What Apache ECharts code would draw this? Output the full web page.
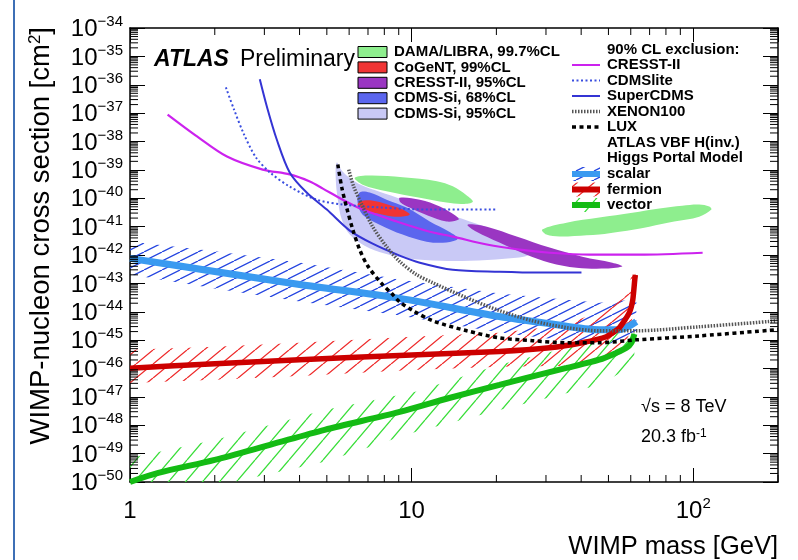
<!DOCTYPE html>
<html><head><meta charset="utf-8">
<script src="https://cdn.jsdelivr.net/npm/echarts@6/dist/echarts.min.js"></script>
<style>html,body{margin:0;padding:0;background:#fff}#c{width:798px;height:560px}</style>
</head><body><div id="c"></div>
<script>
// ---------------- DATA (mass in GeV, log10 of cross-section in cm^2) ----------------
const X_MIN = 1, X_MAX = 200, Y_MIN = -50, Y_MAX = -34;
const xMinorTicks = [2,3,4,5,6,7,8,9,20,30,40,50,60,70,80,90,200];
const yDecades = [-50,-49,-48,-47,-46,-45,-44,-43,-42,-41,-40,-39,-38,-37,-36,-35];
const minorMultipliers = [2,3,4,5,6,7,8,9];

// Exclusion curves
const cresstLine = [[1.36,-37.05],[1.73,-37.82],[2.21,-38.53],[2.96,-38.99],[3.69,-39.16],[4.35,-39.41],[4.84,-39.66],[5.69,-40.05],[6.70,-40.40],[8.85,-40.82],[11.6,-41.18],[14.0,-41.35],[18.5,-41.63],[24.2,-41.81],[30.9,-41.92],[42.8,-41.99],[64.4,-41.99],[108,-41.92]];
const cdmsliteLine = [[2.19,-36.09],[2.34,-36.87],[2.54,-37.75],[2.80,-38.56],[3.14,-39.09],[3.69,-39.59],[4.60,-40.05],[5.69,-40.22],[7.89,-40.33],[11.6,-40.40],[20.2,-40.40]];
const supercdmsLine = [[2.89,-35.81],[3.06,-36.76],[3.32,-37.93],[3.69,-39.09],[4.24,-39.80],[5.00,-40.40],[6.03,-41.14],[7.27,-41.60],[9.07,-42.02],[10.7,-42.27],[14.0,-42.52],[20.5,-42.59],[28.4,-42.62],[40.1,-42.62]];
const xenonLine = [[5.98,-38.99],[6.23,-39.59],[6.70,-40.29],[7.27,-41.00],[8.15,-41.71],[9.07,-42.23],[10.4,-42.69],[11.9,-42.98],[15.7,-43.51],[20.5,-43.96],[26.9,-44.32],[35.5,-44.56],[46.4,-44.67],[62.8,-44.67],[105,-44.53],[200,-44.32]];
const luxLine = [[5.47,-38.81],[5.65,-39.62],[5.88,-40.33],[6.18,-41.10],[6.54,-41.81],[6.98,-42.38],[7.83,-43.01],[8.50,-43.36],[9.07,-43.65],[10.1,-43.96],[11.9,-44.32],[15.7,-44.67],[20.5,-44.92],[26.9,-45.02],[35.5,-45.09],[46.4,-45.09],[62.8,-44.99],[105,-44.85],[200,-44.63]];

// Signal contours (closed outlines)
const damaRegion1 = [[6.28,-39.28],[7.10,-39.20],[9.29,-39.26],[12.3,-39.40],[14.0,-39.58],[15.7,-39.90],[16.5,-40.12],[15.2,-40.20],[13.3,-40.15],[10.7,-39.98],[8.15,-39.75],[6.70,-39.52]];
const damaRegion2 = [[29.1,-41.10],[35.5,-40.86],[46.4,-40.68],[60.8,-40.51],[75.8,-40.36],[91.4,-40.26],[105,-40.22],[114,-40.29],[116,-40.40],[105,-40.65],[85.6,-40.82],[69.8,-41.00],[54.7,-41.18],[46.4,-41.28],[37.8,-41.33],[33.5,-41.35],[30.1,-41.28]];
const cogentRegion = [[6.54,-40.12],[7.21,-40.08],[8.22,-40.22],[9.29,-40.40],[9.84,-40.58],[8.71,-40.65],[7.58,-40.54],[6.76,-40.43],[6.43,-40.26]];
const cresstRegion1 = [[9.07,-39.98],[10.7,-40.05],[12.6,-40.29],[14.3,-40.61],[14.7,-40.75],[13.3,-40.82],[11.4,-40.61],[9.84,-40.33],[9.14,-40.15]];
const cresstRegion2 = [[15.8,-40.93],[18.5,-41.00],[23.6,-41.35],[30.9,-41.74],[40.4,-42.06],[51.6,-42.27],[56.0,-42.40],[49.1,-42.48],[38.5,-42.45],[30.9,-42.27],[25.6,-41.99],[20.5,-41.56],[17.0,-41.18]];
const cdms68Region = [[6.54,-39.80],[7.10,-39.80],[8.15,-40.05],[9.60,-40.33],[11.6,-40.82],[13.6,-41.18],[14.6,-41.42],[13.3,-41.56],[11.3,-41.53],[9.29,-41.28],[7.70,-40.93],[6.70,-40.58],[6.43,-40.15]];
const cdms95Region = [[5.42,-38.74],[5.69,-39.06],[6.13,-39.34],[6.81,-39.59],[8.02,-39.83],[9.84,-40.12],[12.6,-40.47],[16.1,-40.82],[20.5,-41.18],[24.2,-41.46],[26.9,-41.74],[25.8,-42.02],[21.4,-42.13],[16.1,-42.20],[12.6,-42.20],[9.84,-42.13],[8.02,-41.95],[6.81,-41.67],[6.03,-41.28],[5.65,-40.75],[5.47,-40.05],[5.38,-39.34]];

// ATLAS VBF H(inv.) Higgs portal: central lines and band edges
const scalarMid = [[1,-42.12],[2,-42.58],[4,-43.04],[9.07,-43.53],[20.5,-44.17],[30.9,-44.42],[46.4,-44.63],[54.7,-44.63],[62.8,-44.35]];
const scalarHi  = [[1,-41.52],[2,-41.87],[4,-42.26],[9.07,-42.86],[20.5,-43.36],[46.4,-43.68],[62.8,-43.57]];
const scalarLo  = [[1,-42.69],[2,-43.18],[4,-43.64],[9.07,-44.13],[20.5,-44.73],[46.4,-45.16],[62.8,-45.05]];
const fermionMid = [[1,-45.99],[2,-45.83],[4,-45.69],[10,-45.52],[20.5,-45.40],[30.9,-45.27],[40.3,-45.09],[49.1,-44.88],[54.7,-44.56],[59.3,-44.03],[61.0,-43.58],[62.0,-42.87],[62.3,-42.70]];
const fermionHi  = [[1,-45.34],[2,-45.23],[4,-45.09],[10,-44.88],[20.5,-44.74],[33.5,-44.49],[46.4,-44.03],[56.9,-43.51],[62.3,-42.34]];
const fermionLo  = [[1,-46.51],[2,-46.40],[4,-46.26],[10,-46.05],[20.5,-45.94],[33.5,-45.91],[46.4,-45.76],[54.7,-45.41],[59.3,-44.81],[62.3,-43.58]];
const vectorMid = [[1,-50.0],[1.26,-49.68],[2,-49.22],[3.14,-48.69],[4.91,-48.16],[9.07,-47.53],[13.6,-47.04],[20.5,-46.58],[25.6,-46.33],[35.5,-45.98],[46.4,-45.69],[53.3,-45.45],[57.9,-45.27],[60.3,-45.09],[61.8,-44.78]];
const vectorHi  = [[1,-49.15],[2,-48.52],[4.91,-47.46],[10.3,-46.82],[20.5,-45.87],[46.4,-44.99],[61.8,-44.46]];
const vectorLo  = [[1,-50.90],[2,-50.14],[4.91,-49.29],[10.3,-48.24],[20.5,-47.46],[46.4,-46.58],[61.8,-45.87]];

const leftLegend = ['DAMA/LIBRA, 99.7%CL','CoGeNT, 99%CL','CRESST-II, 95%CL','CDMS-Si, 68%CL','CDMS-Si, 95%CL'];
const rightLegend = ['90% CL exclusion:','CRESST-II','CDMSlite','SuperCDMS','XENON100','LUX','ATLAS VBF H(inv.)','Higgs Portal Model','scalar','fermion','vector'];

// ---------------- STYLE ----------------
const FONT = "'Liberation Sans', Arial, Helvetica, sans-serif";
const C = {
  dama:'#8eee8e', cogent:'#f03434', cresstR:'#9a36c2', cdms68:'#5b66ee', cdms95:'#c9c9f6',
  cresst:'#cc22ee', cdmslite:'#3a4ee0', supercdms:'#3434d4', xenon:'#555555', lux:'#000',
  scalarLine:'#3a9af0', scalarHatch:'#2545e0', fermionLine:'#cc0000', fermionHatch:'#ee2a2a',
  vectorLine:'#14bb14', vectorHatch:'#3ade3a'
};
function hatchCanvas(color, d, h, lw) {
  const c = document.createElement('canvas');
  c.width = d; c.height = h;
  const g = c.getContext('2d');
  g.strokeStyle = color; g.lineWidth = lw;
  g.beginPath();
  for (let k = -1; k <= 1; k++) { g.moveTo(k*d, h); g.lineTo(k*d + d, 0); }
  g.stroke();
  return c;
}
const pScalar = {image: hatchCanvas(C.scalarHatch, 18, 9, 1.3), repeat:'repeat'};
const pFermion = {image: hatchCanvas(C.fermionHatch, 17, 14, 1.3), repeat:'repeat'};
const pVector = {image: hatchCanvas(C.vectorHatch, 17, 20, 1.3), repeat:'repeat'};

function polySeries(pts, fill, z, smooth) {
  return {
    type:'custom', coordinateSystem:'cartesian2d', clip:true, z, silent:true, animation:false,
    data: pts, encode:{x:0, y:1},
    renderItem(params, api) {
      if (params.dataIndex !== 0) return;
      return {type:'polygon', shape:{points: pts.map(q => api.coord(q)), smooth: smooth||0},
              style:{fill, stroke:null}};
    }
  };
}
function bandSeries(hi, lo, pattern, z) {
  return polySeries(hi.concat(lo.slice().reverse()), pattern, z, 0);
}
function lineSeries(data, color, width, type, z, smooth) {
  return {type:'line', data, showSymbol:false, symbol:'none', smooth: smooth==null?0.3:smooth,
          lineStyle:{color, width, type, cap:'butt'}, z, silent:true, animation:false, clip:true};
}

const yMinorData = [];
yDecades.forEach(n => minorMultipliers.forEach(k => yMinorData.push([X_MIN, n + Math.log10(k)])));
const xMinorData = xMinorTicks.map(m => [m, Y_MIN]);

const tickSeriesY = {
  type:'custom', coordinateSystem:'cartesian2d', silent:true, animation:false, z:10, data:yMinorData,
  encode:{x:0,y:1},
  renderItem(params, api) {
    const v = api.value(1);
    const L = api.coord([X_MIN, v]), R = api.coord([X_MAX, v]);
    return {type:'group', children:[
      {type:'line', shape:{x1:L[0], y1:L[1], x2:L[0]+8, y2:L[1]}, style:{stroke:'#000', lineWidth:1}},
      {type:'line', shape:{x1:R[0], y1:R[1], x2:R[0]-8, y2:R[1]}, style:{stroke:'#000', lineWidth:1}}
    ]};
  }
};
const tickSeriesX = {
  type:'custom', coordinateSystem:'cartesian2d', silent:true, animation:false, z:10, data:xMinorData,
  encode:{x:0,y:1},
  renderItem(params, api) {
    const m = api.value(0);
    const B = api.coord([m, Y_MIN]), T = api.coord([m, Y_MAX]);
    return {type:'group', children:[
      {type:'line', shape:{x1:B[0], y1:B[1], x2:B[0], y2:B[1]-7}, style:{stroke:'#000', lineWidth:1}},
      {type:'line', shape:{x1:T[0], y1:T[1], x2:T[0], y2:T[1]+7}, style:{stroke:'#000', lineWidth:1}}
    ]};
  }
};

const rich = {
  b:{fontSize:24, fontFamily:FONT, color:'#000', lineHeight:27, verticalAlign:'bottom'},
  s:{fontSize:15, fontFamily:FONT, color:'#000', lineHeight:15, verticalAlign:'top'}
};
const axisLineStyle = {show:true, lineStyle:{color:'#000', width:1.5}};

// ---------------- GRAPHIC (legend + texts) ----------------
const graphic = [];
graphic.push({type:'line', shape:{x1:14, y1:0, x2:14, y2:560}, style:{stroke:'#3d6fb5', lineWidth:2}, silent:true});
graphic.push({type:'text', x:154, y:60, style:{text:'ATLAS', font:"italic bold 23px "+FONT, fill:'#000', verticalAlign:'middle'}});
graphic.push({type:'text', x:240, y:60, style:{text:'Preliminary', font:"23px "+FONT, fill:'#000', verticalAlign:'middle'}});
const leftCols = [C.dama, C.cogent, C.cresstR, C.cdms68, C.cdms95];
const leftY = [52, 67.4, 82.8, 98.2, 113.6];
leftLegend.forEach((t, i) => {
  graphic.push({type:'rect', shape:{x:358, y:leftY[i]-5.5, width:29, height:11}, style:{fill:leftCols[i], stroke:'#000', lineWidth:1}});
  graphic.push({type:'text', x:394, y:leftY[i], style:{text:t, font:"bold 15px "+FONT, fill:'#000', verticalAlign:'middle'}});
});
const rightY = [50, 65, 80.5, 96, 111.5, 127, 142.5, 158, 174, 189.5, 205];
rightLegend.forEach((t, i) => {
  graphic.push({type:'text', x:607, y:rightY[i], style:{text:t, font:"bold 15px "+FONT, fill:'#000', verticalAlign:'middle'}});
});
function legLine(y, color, w, dash) {
  graphic.push({type:'line', shape:{x1:572, y1:y, x2:600, y2:y}, style:{stroke:color, lineWidth:w, lineDash:dash||null}});
}
legLine(rightY[1], C.cresst, 2);
legLine(rightY[2], C.cdmslite, 2, [2,2.5]);
legLine(rightY[3], C.supercdms, 2);
legLine(rightY[4], C.xenon, 3.5, [1.5,1.5]);
legLine(rightY[5], C.lux, 3.5, [4,3.5]);
[[pScalar, C.scalarLine, 8], [pFermion, C.fermionLine, 9], [pVector, C.vectorLine, 10]].forEach(([p, col, ri]) => {
  graphic.push({type:'rect', shape:{x:572, y:rightY[ri]-7, width:28, height:14}, style:{fill:p}});
  legLine(rightY[ri], col, 6);
});
graphic.push({type:'text', x:641, y:407, style:{text:'\u221As = 8 TeV', font:"18px "+FONT, fill:'#000', verticalAlign:'middle'}});
graphic.push({type:'text', x:641, y:437, style:{text:'20.3 fb{s|-1}', font:"18px "+FONT, fill:'#000', verticalAlign:'middle',
  rich:{s:{fontSize:12, fontFamily:FONT, verticalAlign:'top', lineHeight:12}}}});
graphic.push({type:'text', x:41, y:27, rotation:Math.PI/2, style:{text:'WIMP-nucleon cross section [cm{s|2}]', font:"27.5px "+FONT, fill:'#000', align:'right', verticalAlign:'middle',
  rich:{s:{fontSize:17, fontFamily:FONT, verticalAlign:'top', lineHeight:17}}}});
graphic.push({type:'text', x:778, y:547, style:{text:'WIMP mass [GeV]', font:"25.5px "+FONT, fill:'#000', align:'right', verticalAlign:'middle'}});

// ---------------- CHART ----------------
const chart = echarts.init(document.getElementById('c'), null, {renderer:'canvas'});
chart.setOption({
  animation:false,
  backgroundColor:'#fff',
  grid:{left:130, right:20, top:28, bottom:78, containLabel:false},
  xAxis:[
    {type:'log', logBase:10, min:X_MIN, max:X_MAX, position:'bottom', axisLine:axisLineStyle,
     axisTick:{show:true, inside:true, length:14, lineStyle:{color:'#000', width:1}},
     splitLine:{show:false}, minorTick:{show:false},
     axisLabel:{show:true, margin:14, showMaxLabel:false, rich,
       formatter: v => { const r = Math.round(v); if (r===1) return '{b|1}'; if (r===10) return '{b|10}'; if (r===100) return '{b|10}{s|2}'; return ''; }}},
    {type:'log', logBase:10, min:X_MIN, max:X_MAX, position:'top', axisLine:axisLineStyle,
     axisTick:{show:true, inside:true, length:14, lineStyle:{color:'#000', width:1}},
     splitLine:{show:false}, axisLabel:{show:false}}
  ],
  yAxis:[
    {type:'value', min:Y_MIN, max:Y_MAX, interval:1, position:'left', axisLine:axisLineStyle,
     axisTick:{show:true, inside:true, length:15, lineStyle:{color:'#000', width:1}},
     splitLine:{show:false},
     axisLabel:{show:true, margin:7, rich,
       formatter: v => '{b|10}{s|\u2212' + Math.abs(Math.round(v)) + '}'}},
    {type:'value', min:Y_MIN, max:Y_MAX, interval:1, position:'right', axisLine:axisLineStyle,
     axisTick:{show:true, inside:true, length:15, lineStyle:{color:'#000', width:1}},
     splitLine:{show:false}, axisLabel:{show:false}}
  ],
  series:[
    polySeries(cdms95Region, C.cdms95, 1, 0.35),
    polySeries(cdms68Region, C.cdms68, 1, 0.35),
    polySeries(damaRegion1, C.dama, 1, 0.35),
    polySeries(damaRegion2, C.dama, 1, 0.35),
    polySeries(cresstRegion1, C.cresstR, 1, 0.35),
    polySeries(cresstRegion2, C.cresstR, 1, 0.35),
    polySeries(cogentRegion, C.cogent, 1, 0.35),
    bandSeries(scalarHi, scalarLo, pScalar, 2),
    bandSeries(fermionHi, fermionLo, pFermion, 2),
    bandSeries(vectorHi, vectorLo, pVector, 2),
    lineSeries(scalarMid, C.scalarLine, 7, 'solid', 3),
    lineSeries(fermionMid, C.fermionLine, 5.5, 'solid', 3, 0.2),
    lineSeries(vectorMid, C.vectorLine, 6, 'solid', 3),
    lineSeries(cresstLine, C.cresst, 2.2, 'solid', 4),
    lineSeries(cdmsliteLine, C.cdmslite, 2, [2,2.5], 4),
    lineSeries(supercdmsLine, C.supercdms, 2, 'solid', 4),
    lineSeries(xenonLine, C.xenon, 3.5, [1.5,1.5], 4),
    lineSeries(luxLine, C.lux, 3.5, [4,3.5], 4),
    tickSeriesY, tickSeriesX
  ],
  graphic
});
</script></body></html>
